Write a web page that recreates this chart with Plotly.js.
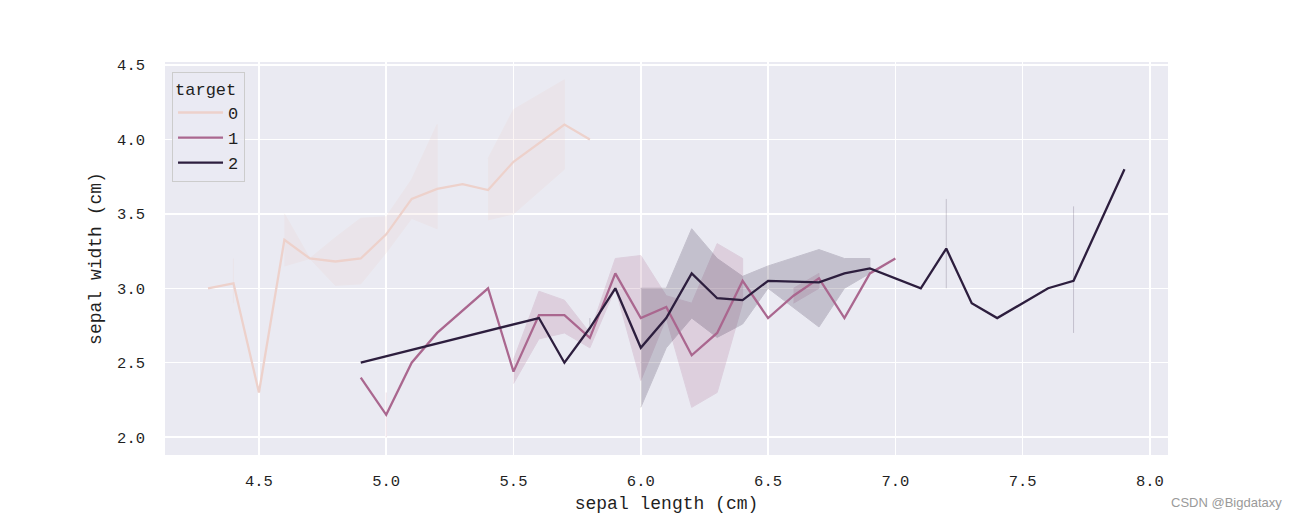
<!DOCTYPE html>
<html>
<head>
<meta charset="utf-8">
<script src="https://cdn.plot.ly/plotly-3.0.1.min.js"></script>
<style>html,body{margin:0;padding:0;background:#fff;}#chart{width:1300px;height:520px;}</style>
</head>
<body>
<div id="chart"></div>
<script>
// target 0 (setosa)
const x0  = [4.3, 4.4, 4.5, 4.6, 4.7, 4.8, 4.9, 5.0, 5.1, 5.2, 5.3, 5.4, 5.5, 5.7, 5.8];
const m0  = [3.0, 3.033, 2.3, 3.325, 3.2, 3.18, 3.2, 3.3625, 3.6, 3.667, 3.7, 3.66, 3.85, 4.1, 4.0];
const lo0 = [null, 2.9, null, 3.15, 3.2, 3.02, 3.03, 3.24, 3.47, 3.4, null, 3.46, 3.5, 3.8, null];
const hi0 = [null, 3.2, null, 3.5, 3.2, 3.34, 3.47, 3.48, 3.73, 4.1, null, 3.87, 4.2, 4.4, null];

// target 1 (versicolor)
const x1  = [4.9, 5.0, 5.1, 5.2, 5.4, 5.5, 5.6, 5.7, 5.8, 5.9, 6.0, 6.1, 6.2, 6.3, 6.4, 6.5, 6.6, 6.7, 6.8, 6.9, 7.0];
const m1  = [2.4, 2.15, 2.5, 2.7, 3.0, 2.44, 2.82, 2.82, 2.667, 3.1, 2.8, 2.875, 2.55, 2.7, 3.05, 2.8, 2.95, 3.067, 2.8, 3.1, 3.2];
const lo1 = [null, 2.0, null, null, null, 2.36, 2.66, 2.7, 2.6, 3.0, 2.38, 2.8, 2.2, 2.3, 2.9, null, 2.9, 3.0, null, null, null];
const hi1 = [null, 2.3, null, null, null, 2.52, 2.98, 2.92, 2.7, 3.2, 3.22, 2.95, 2.9, 3.3, 3.2, null, 3.0, 3.1, null, null, null];

// target 2 (virginica)
const x2  = [4.9, 5.6, 5.7, 5.8, 5.9, 6.0, 6.1, 6.2, 6.3, 6.4, 6.5, 6.7, 6.8, 6.9, 7.1, 7.2, 7.3, 7.4, 7.6, 7.7, 7.9];
const m2  = [2.5, 2.8, 2.5, 2.733, 3.0, 2.6, 2.8, 3.1, 2.933, 2.92, 3.05, 3.04, 3.1, 3.133, 3.0, 3.267, 2.9, 2.8, 3.0, 3.05, 3.8];
const lo2 = [null, null, null, 2.7, null, 2.2, 2.6, 2.8, 2.67, 2.76, 3.0, 2.74, 3.0, 3.1, null, 3.0, null, null, null, 2.7, null];
const hi2 = [null, null, null, 2.8, null, 3.0, 3.0, 3.4, 3.2, 3.08, 3.15, 3.26, 3.2, 3.2, null, 3.6, null, null, null, 3.55, null];

const targets = ["0", "1", "2"];
const colors = ["#edd1cb", "#aa678f", "#2d1e3e"];

const series = [
  {x: x0, m: m0, lo: lo0, hi: hi0},
  {x: x1, m: m1, lo: lo1, hi: hi1},
  {x: x2, m: m2, lo: lo2, hi: hi2}
];

const FONT = "Liberation Mono, DejaVu Sans Mono, monospace";
const TXT = "#1f1f1f";

function bandTrace(s, color) {
  const bx = [], by = [];
  let seg = [];
  const flush = () => {
    if (seg.length) {
      seg.forEach(i => { bx.push(s.x[i]); by.push(s.hi[i]); });
      seg.slice().reverse().forEach(i => { bx.push(s.x[i]); by.push(s.lo[i]); });
      bx.push(null); by.push(null);
      seg = [];
    }
  };
  s.x.forEach((v, i) => {
    if (s.lo[i] === null) flush(); else seg.push(i);
  });
  flush();
  return {
    x: bx, y: by, type: "scatter", mode: "lines", fill: "toself",
    fillcolor: color, line: {color: color, width: 1},
    opacity: 0.2, showlegend: false, hoverinfo: "skip"
  };
}

const traces = [];
series.forEach((s, k) => traces.push(bandTrace(s, colors[k])));
series.forEach((s, k) => traces.push({
  x: s.x, y: s.m, type: "scatter", mode: "lines", name: targets[k],
  line: {color: colors[k], width: 2.3}
}));

const layout = {
  width: 1300, height: 520,
  margin: {l: 165, r: 132, t: 62, b: 65},
  paper_bgcolor: "#ffffff",
  plot_bgcolor: "#eaeaf2",
  font: {family: FONT, size: 15.5, color: TXT},
  xaxis: {
    range: [4.131, 8.071], tick0: 4.5, dtick: 0.5, tickformat: ".1f",
    showgrid: true, gridcolor: "#ffffff", gridwidth: 1.5,
    zeroline: false, showline: false, ticks: "",
    ticklabelstandoff: 14,
    tickfont: {family: FONT, size: 15.5, color: TXT},
    title: {text: "sepal length (cm)", font: {family: FONT, size: 18, color: TXT}, standoff: 6}
  },
  yaxis: {
    range: [1.88, 4.52], tick0: 2.0, dtick: 0.5, tickformat: ".1f",
    showgrid: true, gridcolor: "#ffffff", gridwidth: 1.5,
    zeroline: false, showline: false, ticks: "",
    ticklabelstandoff: 19,
    tickfont: {family: FONT, size: 15.5, color: TXT},
    title: {text: "sepal width (cm)", font: {family: FONT, size: 18, color: TXT}, standoff: 10}
  },
  legend: {
    x: 0.007, y: 0.975, xanchor: "left", yanchor: "top",
    bgcolor: "rgba(234,234,242,0.8)", bordercolor: "#cccccc", borderwidth: 1,
    font: {family: FONT, size: 17, color: TXT},
    title: {text: "target", side: "top", font: {family: FONT, size: 17, color: TXT}},
    tracegroupgap: 0, itemwidth: 45
  },
  annotations: [{
    text: "CSDN @Bigdataxy", xref: "paper", yref: "paper",
    x: 1.1157, y: -0.1196, xanchor: "right", yanchor: "middle",
    showarrow: false, font: {family: "Liberation Sans, Arial, sans-serif", size: 13, color: "#9a9a9a"}
  }]
};

Plotly.newPlot("chart", traces, layout, {displayModeBar: false, staticPlot: true});
</script>
</body>
</html>
